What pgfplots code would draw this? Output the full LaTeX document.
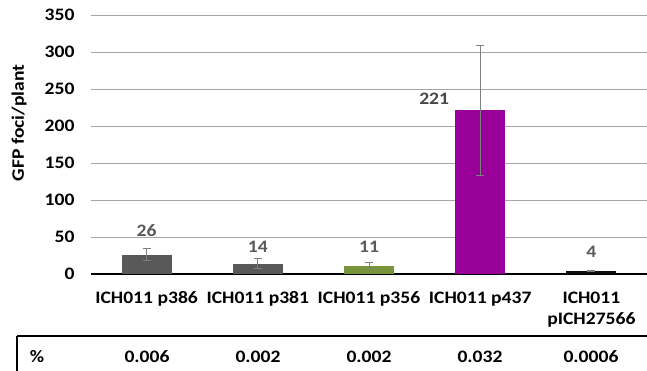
\documentclass[border=0pt]{standalone}
\usepackage{fontspec}
\setmainfont{Carlito}[FakeStretch=1.12]
\usepackage{pgfplots}
\pgfplotsset{compat=1.18}
\definecolor{dgray}{HTML}{595959}
\definecolor{olive}{HTML}{77933C}
\definecolor{purp}{HTML}{990099}
\definecolor{blk}{HTML}{0D0D0D}
\definecolor{gridc}{HTML}{A6A6A6}
\definecolor{errc}{HTML}{7F7F7F}
\definecolor{lblc}{HTML}{595959}
\newcommand{\cf}{\fontsize{17.5}{21}\selectfont\bfseries}
\begin{document}
\begin{tikzpicture}[x=1pt,y=1pt,font=\cf]
\path[use as bounding box] (0,0) rectangle (647,371);
\begin{axis}[
  at={(91pt,97pt)}, anchor=south west,
  scale only axis, width=556pt, height=259pt,
  xmin=-0.5, xmax=4.5, ymin=0, ymax=350,
  ytick={0,50,...,350},
  xtick={0,1,2,3,4},
  xticklabels={ICH011 p386, ICH011 p381, ICH011 p356, ICH011 p437, {ICH011\\pICH27566}},
  /pgf/number format/assume math mode=true,
  tick label style={font=\cf, text=black},
  xticklabel style={align=center, anchor=north, yshift=-14pt},
  yticklabel style={anchor=east, xshift=-13pt},
  major tick length=0pt,
  axis x line=bottom, axis y line=left,
  x axis line style={-, black, line width=1.5pt},
  y axis line style={draw=none},
  ymajorgrids, grid style={gridc, line width=0.8pt},
  ybar, bar width=50pt, bar shift=0pt,
  clip=false,
  error bars/error bar style={errc, line width=1pt},
  error bars/error mark options={rotate=90, mark size=4pt, errc, line width=1pt},
]
\addplot[fill=dgray, draw=none, error bars/.cd, y dir=both, y explicit] coordinates {(0,26) +- (0,8)};
\addplot[fill=dgray, draw=none, error bars/.cd, y dir=both, y explicit] coordinates {(1,14) +- (0,6.5)};
\addplot[fill=olive, draw=none, error bars/.cd, y dir=both, y explicit] coordinates {(2,11) +- (0,4)};
\addplot[fill=purp, draw=none, error bars/.cd, y dir=both, y explicit] coordinates {(3,221) +- (0,88)};
\addplot[fill=blk, draw=none, error bars/.cd, y dir=both, y explicit] coordinates {(4,4) +- (0,1)};
\node[text=lblc] at (axis cs:0,58.6) {26};
\node[text=lblc] at (axis cs:1,36.8) {14};
\node[text=lblc] at (axis cs:2,36.8) {11};
\node[text=lblc!80!black] at (axis cs:2.586,237) {221};
\node[text=lblc] at (axis cs:4,30) {4};
\end{axis}
\node[rotate=90] at (19,248) {GFP foci/plant};
\draw[line width=1.2pt] (17,35) -- (647,35);
\draw[line width=1.2pt] (17,35) -- (17,-1);
\node at (37,14) {\%};
\node at (147,14) {0.006};
\node at (258,14) {0.002};
\node at (369,14) {0.002};
\node at (480,14) {0.032};
\node at (591,14) {0.0006};
\end{tikzpicture}
\end{document}
